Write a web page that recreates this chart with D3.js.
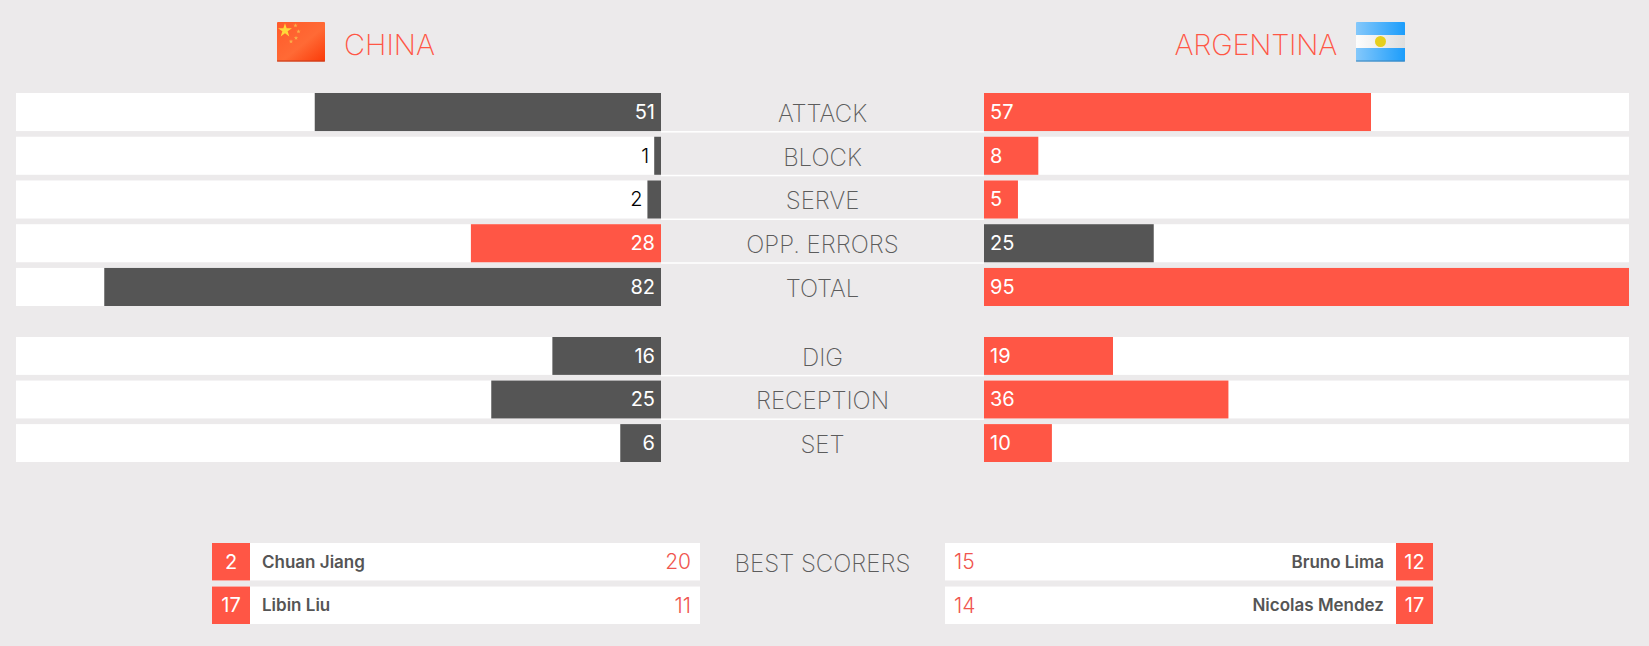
<!DOCTYPE html>
<html>
<head>
<meta charset="utf-8">
<script src="https://cdn.jsdelivr.net/npm/d3@7"></script>
<style>
    html, body { margin: 0; padding: 0; background: #eceaeb; overflow: hidden; }
    svg { display: block; }
    text { font-family: "Inter", sans-serif; }
</style>
</head>
<body>
<div id="chart"></div>
<script>
const scoringLabels = ["ATTACK", "BLOCK", "SERVE", "OPP. ERRORS", "TOTAL"]
const chinaScoring = [51, 1, 2, 28, 82]
const argentinaScoring = [57, 8, 5, 25, 95]

const otherLabels = ["DIG", "RECEPTION", "SET"]
const chinaOther = [16, 25, 6]
const argentinaOther = [19, 36, 10]

const chinaNumbers = [2, 17]
const chinaNames = ["Chuan Jiang", "Libin Liu"]
const chinaPoints = [20, 11]
const argentinaNumbers = [12, 17]
const argentinaNames = ["Bruno Lima", "Nicolas Mendez"]
const argentinaPoints = [15, 14]

const red = "#ff5645"
const dark = "#555555"
const labelColor = "#5c5c5c"

const width = 1649, height = 646
const svg = d3.select("#chart").append("svg").attr("width", width).attr("height", height)
const defs = svg.append("defs")

// bars grow out from the centre column on both sides
const leftX = d3.scaleLinear().domain([0, 95]).range([661, 16])
const rightX = d3.scaleLinear().domain([0, 95]).range([984, 1629])

const scoringY = d3.scaleBand().domain(scoringLabels).range([93, 306]).paddingInner(0.13)
const otherY = d3.scaleBand().domain(otherLabels).range([337, 462]).paddingInner(0.13)

function drawGroup(labels, china, argentina, y){
    const rows = labels.map((d, i) => ({label: d, china: china[i], argentina: argentina[i]}))
    const g = svg.append("g")

    // thin white rule under every row except the last
    g.selectAll(".rule").data(rows.slice(0, -1)).enter().append("rect")
        .attr("x", 661).attr("width", 323)
        .attr("y", d => y(d.label) + y.bandwidth())
        .attr("height", 1.5)
        .attr("fill", "#fff")

    const row = g.selectAll(".row").data(rows).enter().append("g")
        .attr("transform", d => "translate(0," + y(d.label) + ")")

    row.append("rect").attr("x", leftX(95)).attr("width", leftX(0) - leftX(95))
        .attr("height", y.bandwidth()).attr("fill", "#fff")
    row.append("rect").attr("x", rightX(0)).attr("width", rightX(95) - rightX(0))
        .attr("height", y.bandwidth()).attr("fill", "#fff")

    row.append("rect").attr("x", d => leftX(d.china)).attr("width", d => leftX(0) - leftX(d.china))
        .attr("height", y.bandwidth())
        .attr("fill", d => d.china > d.argentina ? red : dark)
    row.append("rect").attr("x", rightX(0)).attr("width", d => rightX(d.argentina) - rightX(0))
        .attr("height", y.bandwidth())
        .attr("fill", d => d.argentina > d.china ? red : dark)

    // values too small for their bar sit outside it in black
    row.append("text")
        .attr("x", d => d.china < 5 ? leftX(d.china) - 5 : leftX(0) - 6)
        .attr("y", y.bandwidth() / 2 + 7)
        .attr("text-anchor", "end")
        .attr("font-size", 20)
        .attr("font-weight", d => d.china < 5 ? 300 : 400)
        .attr("fill", d => d.china < 5 ? "#000" : "#fff")
        .text(d => d.china)
    row.append("text")
        .attr("x", rightX(0) + 6)
        .attr("y", y.bandwidth() / 2 + 7)
        .attr("font-size", 20)
        .attr("fill", "#fff")
        .text(d => d.argentina)

    row.append("text")
        .attr("x", 822.5)
        .attr("y", y.bandwidth() / 2 + 10)
        .attr("text-anchor", "middle")
        .attr("font-size", 24)
        .attr("font-weight", 200)
        .attr("fill", labelColor)
        .text(d => d.label)
}

drawGroup(scoringLabels, chinaScoring, argentinaScoring, scoringY)
drawGroup(otherLabels, chinaOther, argentinaOther, otherY)

// header
svg.append("text").attr("x", 344).attr("y", 55).attr("font-size", 29).attr("font-weight", 200)
    .attr("fill", red).text("CHINA")
svg.append("text").attr("x", 1337).attr("y", 55).attr("text-anchor", "end").attr("font-size", 29)
    .attr("font-weight", 200).attr("letter-spacing", -0.25).attr("fill", red).text("ARGENTINA")

const chinaGrad = defs.append("linearGradient").attr("id", "china-grad")
    .attr("x1", 0).attr("y1", 0).attr("x2", 1).attr("y2", 1)
chinaGrad.append("stop").attr("offset", 0).attr("stop-color", "#ff5a2a")
chinaGrad.append("stop").attr("offset", 0.55).attr("stop-color", "#ff6a35")
chinaGrad.append("stop").attr("offset", 1).attr("stop-color", "#fb3a08")

const flagChina = svg.append("g").attr("transform", "translate(277,22)")
flagChina.append("rect").attr("width", 48).attr("height", 39.5).attr("rx", 1).attr("fill", "url(#china-grad)")
flagChina.append("rect").attr("y", 38.5).attr("width", 48).attr("height", 1).attr("fill", "#c23a1c")
flagChina.append("path").attr("d", d3.symbol(d3.symbolStar, 60)).attr("transform", "translate(8,8.5)").attr("fill", "#ffd83a")
const smallStars = [[18.5, 3.5], [21.5, 9.5], [19, 16], [14, 19.5]]
flagChina.selectAll(".small").data(smallStars).enter().append("path")
    .attr("d", d3.symbol(d3.symbolStar, 6))
    .attr("transform", d => "translate(" + d[0] + "," + d[1] + ")")
    .attr("fill", "#f9b04a")

const flagArgentina = svg.append("g").attr("transform", "translate(1356,22)")
const argentinaGrad = defs.append("linearGradient").attr("id", "arg-grad")
    .attr("x1", 0).attr("y1", 0).attr("x2", 1).attr("y2", 0)
argentinaGrad.append("stop").attr("offset", 0).attr("stop-color", "#84c8fb")
argentinaGrad.append("stop").attr("offset", 1).attr("stop-color", "#1c9dfb")
const whiteGrad = defs.append("linearGradient").attr("id", "arg-white")
    .attr("x1", 0).attr("y1", 0).attr("x2", 1).attr("y2", 0)
whiteGrad.append("stop").attr("offset", 0).attr("stop-color", "#fdfdfd")
whiteGrad.append("stop").attr("offset", 1).attr("stop-color", "#dedede")
flagArgentina.append("rect").attr("width", 49).attr("height", 39.5).attr("rx", 1).attr("fill", "url(#arg-grad)")
flagArgentina.append("rect").attr("y", 13).attr("width", 49).attr("height", 13).attr("fill", "url(#arg-white)")
flagArgentina.append("rect").attr("y", 38.5).attr("width", 49).attr("height", 1).attr("fill", "#3f83b8")
flagArgentina.append("circle").attr("cx", 24.5).attr("cy", 19.5).attr("r", 5.5).attr("fill", "#e6cf1e")

// best scorers
function drawScorers(numbers, names, points, x0, x1, badgeLeft){
    const y = d3.scaleBand().domain(d3.range(numbers.length)).range([543, 624]).paddingInner(0.14)
    const rows = numbers.map((d, i) => ({i: i, number: d, name: names[i], points: points[i]}))
    const row = svg.append("g").selectAll("g").data(rows).enter().append("g")
        .attr("transform", d => "translate(0," + y(d.i) + ")")
    const mid = y.bandwidth() / 2

    row.append("rect").attr("x", x0).attr("width", x1 - x0).attr("height", y.bandwidth()).attr("fill", "#fff")
    row.append("rect").attr("x", badgeLeft ? x0 : x1 - 37).attr("width", badgeLeft ? 38 : 37)
        .attr("height", y.bandwidth()).attr("fill", red)
    row.append("text").attr("x", badgeLeft ? x0 + 19 : x1 - 18.5).attr("y", mid + 7)
        .attr("text-anchor", "middle").attr("font-size", 20).attr("fill", "#fff").text(d => d.number)
    row.append("text").attr("x", badgeLeft ? x0 + 50 : x1 - 49).attr("y", mid + 6)
        .attr("text-anchor", badgeLeft ? "start" : "end").attr("font-size", 17).attr("font-weight", 600)
        .attr("fill", dark).text(d => d.name)
    row.append("text").attr("x", badgeLeft ? x1 - 9 : x0 + 9).attr("y", mid + 7.5)
        .attr("text-anchor", badgeLeft ? "end" : "start").attr("font-size", 21).attr("font-weight", 300)
        .attr("fill", "#f0564f").text(d => d.points)
}

drawScorers(chinaNumbers, chinaNames, chinaPoints, 212, 700, true)
drawScorers(argentinaNumbers, argentinaNames, argentinaPoints, 945, 1433, false)

svg.append("text").attr("x", 822.5).attr("y", 572).attr("text-anchor", "middle")
    .attr("font-size", 24).attr("font-weight", 200).attr("fill", labelColor).text("BEST SCORERS")
</script>
</body>
</html>
